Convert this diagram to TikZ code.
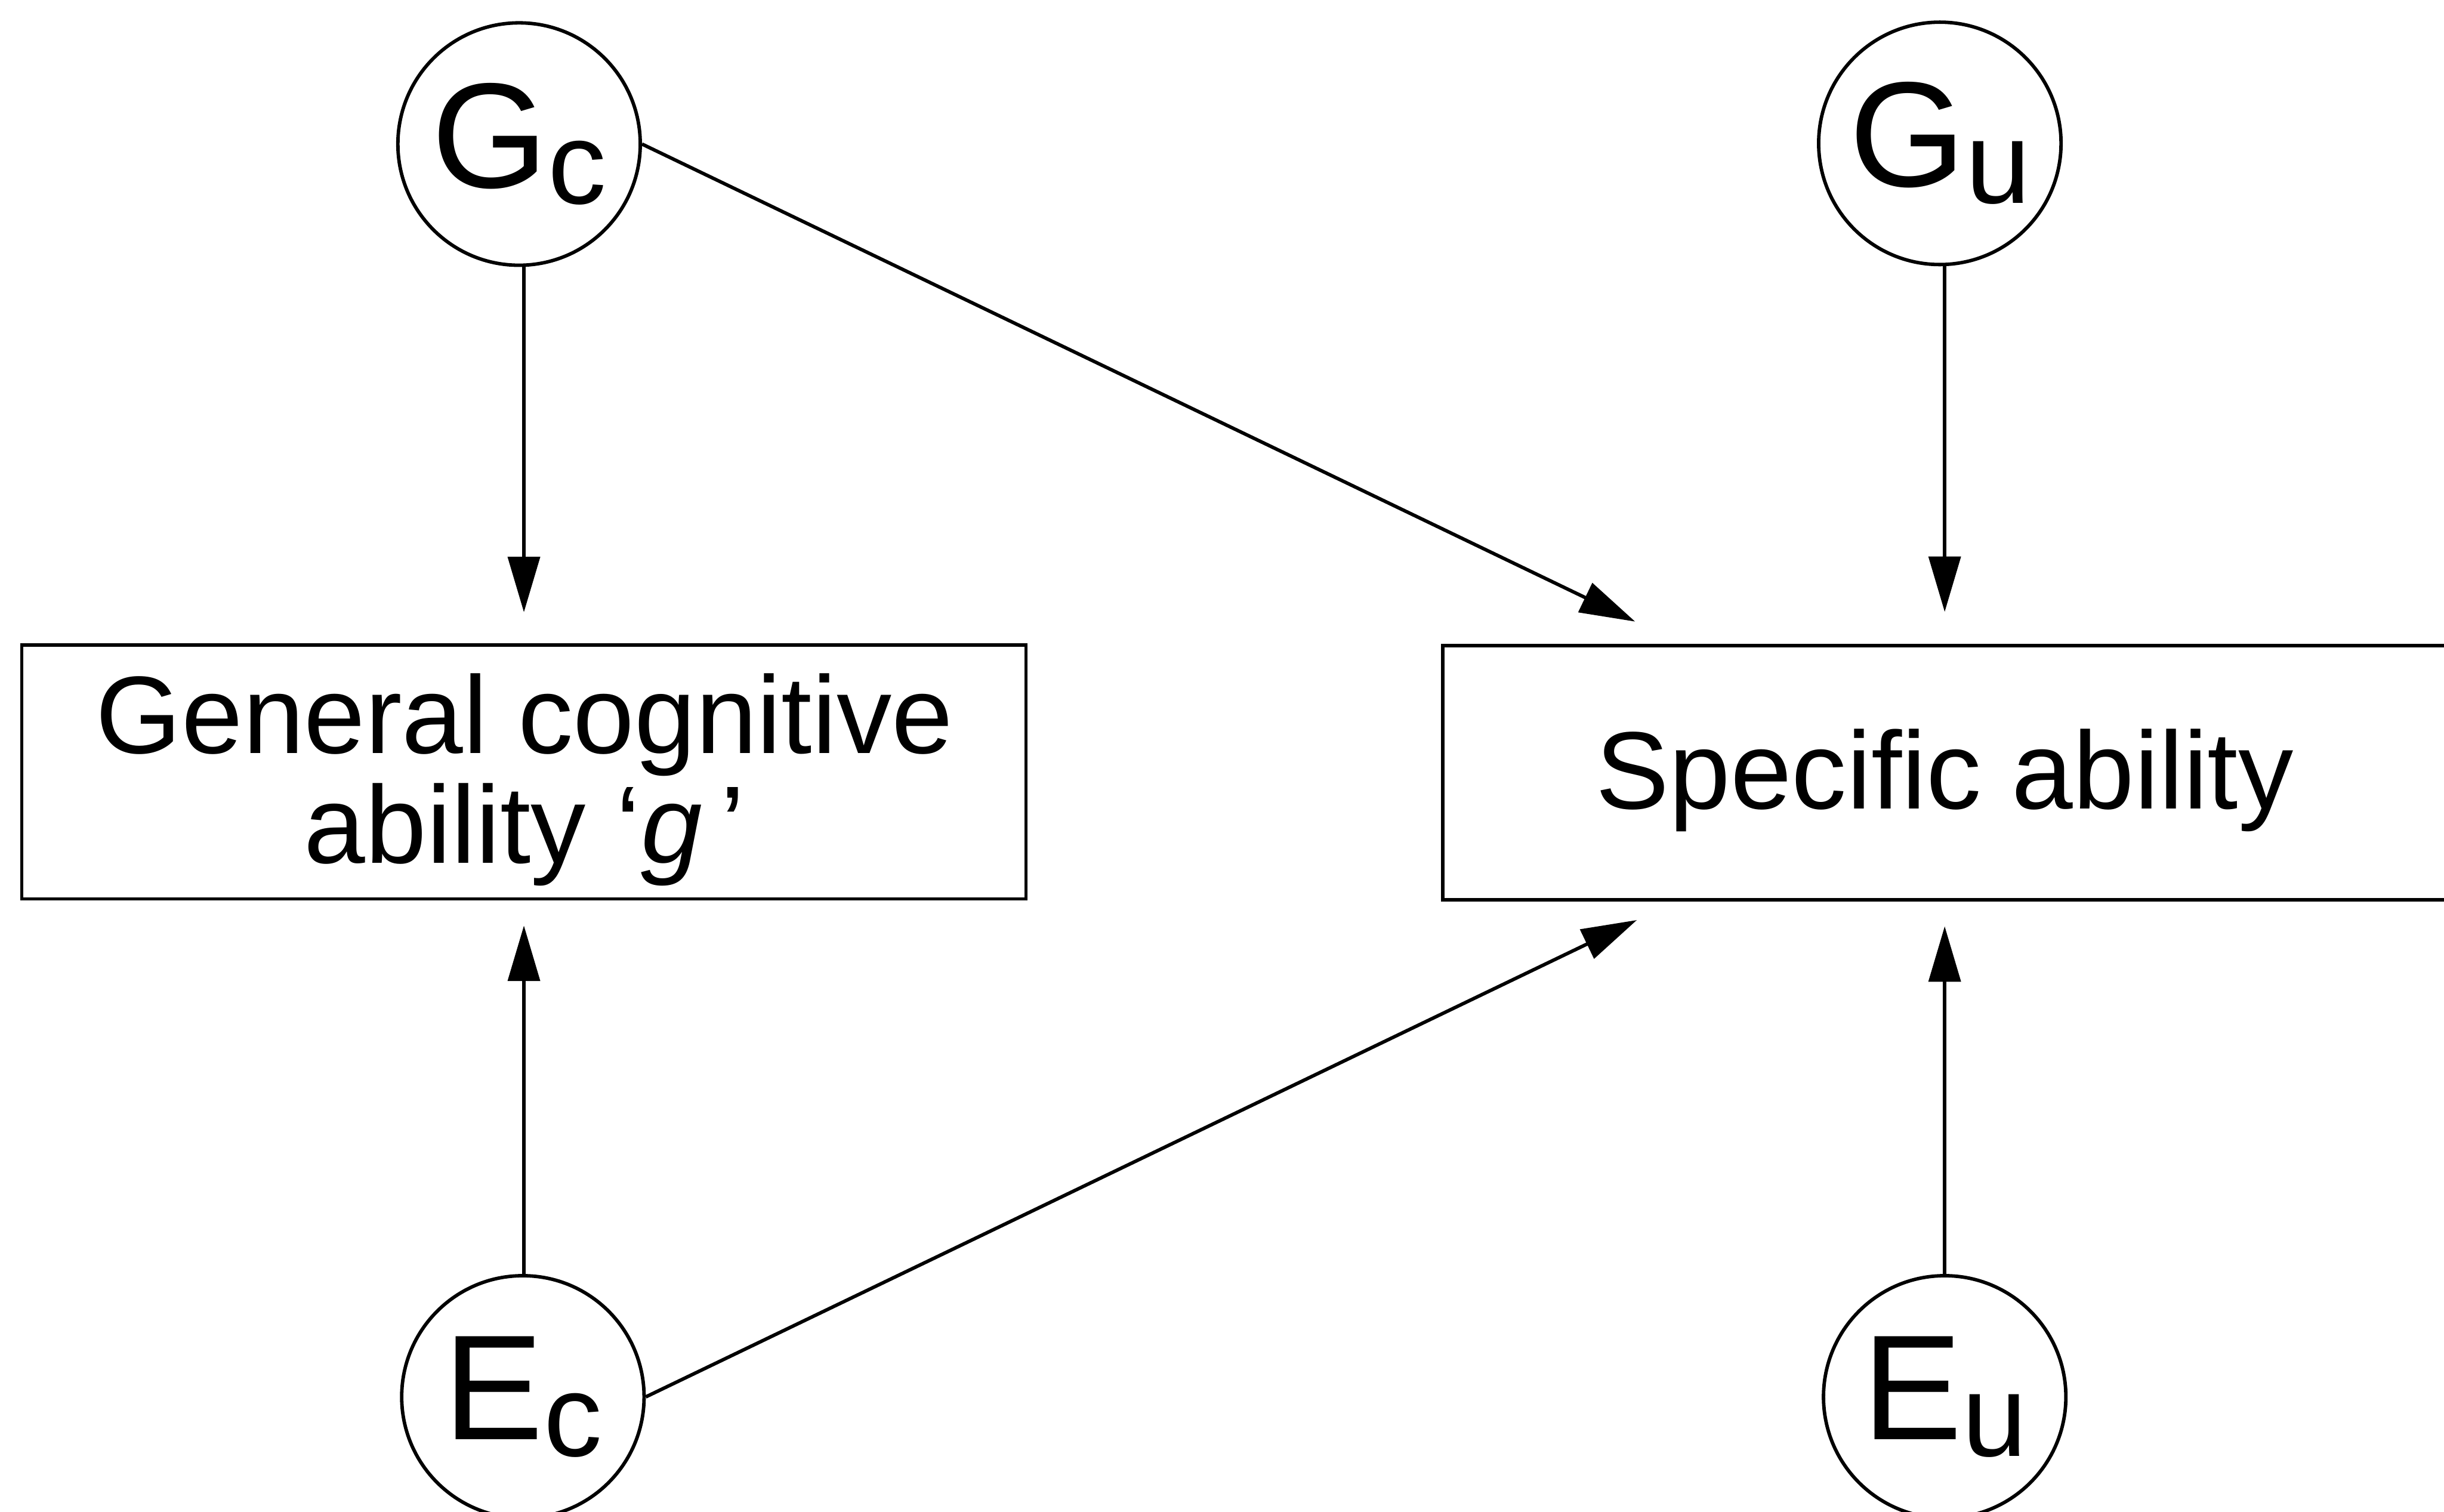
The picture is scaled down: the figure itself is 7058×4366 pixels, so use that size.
\documentclass[tikz,border=0pt]{standalone}
\usepackage{fontspec}
\setmainfont{Liberation Sans}
\usetikzlibrary{arrows.meta}
\newcommand\lowsub[1]{\raisebox{-4.8mm}{\fontsize{96}{96}\selectfont #1}}
\begin{document}
\begin{tikzpicture}[x=0.1mm,y=-0.1mm,
  line width=1mm,
  latent/.style={draw, circle, inner sep=0pt, minimum size=70mm, font=\fontsize{123}{123}\selectfont},
  obs/.style={draw, rectangle, inner sep=0pt, minimum width=290mm, minimum height=73.4mm},
  obstext/.style={inner sep=0pt, align=center, font=\fontsize{90.5}{90}\selectfont},
  arr/.style={-{Triangle[length=16mm,width=9.2mm]}},
]
\useasboundingbox (0,0) rectangle (7058,4366);
\fill[white] (0,0) rectangle (7058,4366);
\clip (0,0) rectangle (7058,4366);

\node[latent] (Gc) at (1499,416) {G\lowsub{c}};
\node[latent] (Gu) at (5602,414) {G\lowsub{u}};
\node[latent] (Ec) at (1510,4034) {E\lowsub{c}};
\node[latent] (Eu) at (5616,4034) {E\lowsub{u}};

\node[obs] (gbox) at (1513,2229) {};
\node[obs] (sbox) at (5616,2231) {};
\node[obstext] (gtext) at (1515,2252) {General cognitive\\ability ‘\textit{g}\,’};
\node[obstext] (stext) at (5616,2253) {Specific ability};

\coordinate (t1) at (4722,1795);
\coordinate (t2) at (4727,2657);

\draw[arr, shorten >=8.9mm] (gbox.north |- Gc.south) -- (gbox.north);
\draw[arr, shorten >=7.2mm] (gbox.south |- Ec.north) -- (gbox.south);
\draw[arr, shorten >=9.2mm] (sbox.north |- Gu.south) -- (sbox.north);
\draw[arr, shorten >=7.2mm] (sbox.south |- Eu.north) -- (sbox.south);
\draw[arr] (Gc.east) -- (t1);
\draw[arr] (Ec.east) -- (t2);
\end{tikzpicture}
\end{document}
